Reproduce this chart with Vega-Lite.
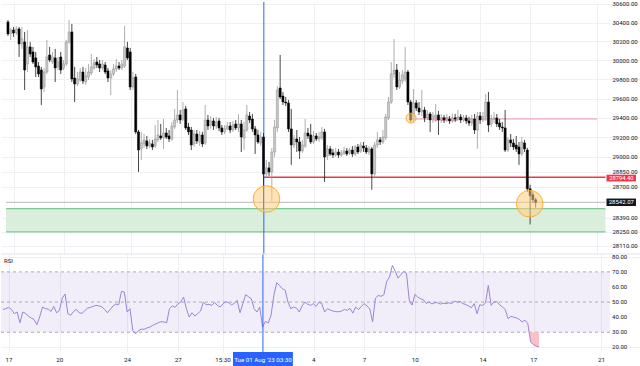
{
"$schema":"https://vega.github.io/schema/vega-lite/v6.json",
"padding":0,
"background":"#ffffff",
"spacing":0,
"bounds":"flush",
"config":{"view":{"stroke":null},"font":"Roboto","axis":{"labelOverlap":false}},
"resolve":{"scale":{"x":"independent","y":"independent"},"axis":{"x":"independent","y":"independent"}},
"datasets":{"candles":[
{"t":"2023-07-16T15:30Z","o":30407,"h":30428,"l":30259,"c":30280,"r":45.1},
{"t":"2023-07-16T19:30Z","o":30280,"h":30343,"l":30216,"c":30322,"r":45.6},
{"t":"2023-07-16T23:30Z","o":30322,"h":30354,"l":30248,"c":30290,"r":46.5},
{"t":"2023-07-17T03:30Z","o":30290,"h":30365,"l":30269,"c":30333,"r":45.1},
{"t":"2023-07-17T07:30Z","o":30333,"h":30354,"l":30036,"c":30174,"r":42.3},
{"t":"2023-07-17T11:30Z","o":30174,"h":30354,"l":30121,"c":30227,"r":43.4},
{"t":"2023-07-17T15:30Z","o":30195,"h":30301,"l":29690,"c":29899,"r":36.3},
{"t":"2023-07-17T19:30Z","o":29962,"h":30322,"l":29878,"c":30142,"r":43.4},
{"t":"2023-07-17T23:30Z","o":30142,"h":30195,"l":30036,"c":30068,"r":42.5},
{"t":"2023-07-18T03:30Z","o":30089,"h":30142,"l":29962,"c":29983,"r":40.7},
{"t":"2023-07-18T07:30Z","o":30026,"h":30089,"l":29826,"c":29931,"r":39.4},
{"t":"2023-07-18T11:30Z","o":29941,"h":29983,"l":29826,"c":29857,"r":38.5},
{"t":"2023-07-18T15:30Z","o":29899,"h":29931,"l":29534,"c":29700,"r":35.0},
{"t":"2023-07-18T19:30Z","o":29721,"h":29920,"l":29669,"c":29878,"r":40.1},
{"t":"2023-07-18T23:30Z","o":29878,"h":30216,"l":29857,"c":30036,"r":46.7},
{"t":"2023-07-19T03:30Z","o":30057,"h":30142,"l":29983,"c":30004,"r":45.6},
{"t":"2023-07-19T07:30Z","o":29983,"h":30089,"l":29962,"c":30036,"r":45.4},
{"t":"2023-07-19T11:30Z","o":30026,"h":30121,"l":29773,"c":29920,"r":43.8},
{"t":"2023-07-19T15:30Z","o":29931,"h":30036,"l":29899,"c":29983,"r":47.1},
{"t":"2023-07-19T19:30Z","o":30036,"h":30089,"l":29857,"c":29899,"r":42.9},
{"t":"2023-07-19T23:30Z","o":29920,"h":30004,"l":29899,"c":29962,"r":44.5},
{"t":"2023-07-20T03:30Z","o":29962,"h":30216,"l":29941,"c":30195,"r":52.6},
{"t":"2023-07-20T07:30Z","o":30195,"h":30428,"l":30174,"c":30301,"r":55.3},
{"t":"2023-07-20T11:30Z","o":30301,"h":30386,"l":29773,"c":29805,"r":42.3},
{"t":"2023-07-20T15:30Z","o":29815,"h":29931,"l":29565,"c":29752,"r":41.2},
{"t":"2023-07-20T19:30Z","o":29752,"h":29878,"l":29731,"c":29805,"r":43.8},
{"t":"2023-07-20T23:30Z","o":29794,"h":29920,"l":29773,"c":29878,"r":45.1},
{"t":"2023-07-21T03:30Z","o":29878,"h":29931,"l":29752,"c":29784,"r":42.9},
{"t":"2023-07-21T07:30Z","o":29773,"h":29920,"l":29742,"c":29836,"r":42.5},
{"t":"2023-07-21T11:30Z","o":29826,"h":29962,"l":29794,"c":29878,"r":44.3},
{"t":"2023-07-21T15:30Z","o":29868,"h":30068,"l":29847,"c":29931,"r":46.0},
{"t":"2023-07-21T19:30Z","o":29920,"h":30015,"l":29899,"c":29973,"r":46.5},
{"t":"2023-07-21T23:30Z","o":29983,"h":30036,"l":29920,"c":29952,"r":47.1},
{"t":"2023-07-22T03:30Z","o":29962,"h":30004,"l":29878,"c":29920,"r":47.8},
{"t":"2023-07-22T07:30Z","o":29920,"h":30004,"l":29899,"c":29962,"r":47.4},
{"t":"2023-07-22T11:30Z","o":29952,"h":29983,"l":29857,"c":29878,"r":46.9},
{"t":"2023-07-22T15:30Z","o":29889,"h":29920,"l":29773,"c":29815,"r":45.1},
{"t":"2023-07-22T19:30Z","o":29815,"h":29899,"l":29638,"c":29857,"r":42.9},
{"t":"2023-07-22T23:30Z","o":29857,"h":29962,"l":29836,"c":29910,"r":45.1},
{"t":"2023-07-23T03:30Z","o":29910,"h":30015,"l":29878,"c":29941,"r":47.4},
{"t":"2023-07-23T07:30Z","o":29941,"h":29983,"l":29899,"c":29920,"r":48.7},
{"t":"2023-07-23T11:30Z","o":29920,"h":30004,"l":29899,"c":29962,"r":48.2},
{"t":"2023-07-23T15:30Z","o":29941,"h":30365,"l":29920,"c":30142,"r":57.1},
{"t":"2023-07-23T19:30Z","o":30131,"h":30195,"l":30004,"c":30026,"r":56.6},
{"t":"2023-07-23T23:30Z","o":30089,"h":30131,"l":29690,"c":29721,"r":43.4},
{"t":"2023-07-24T03:30Z","o":29721,"h":29878,"l":29690,"c":29815,"r":45.6},
{"t":"2023-07-24T07:30Z","o":29826,"h":29857,"l":29235,"c":29256,"r":31.2},
{"t":"2023-07-24T11:30Z","o":29256,"h":29276,"l":28848,"c":29071,"r":29.0},
{"t":"2023-07-24T15:30Z","o":29082,"h":29256,"l":28969,"c":29143,"r":31.0},
{"t":"2023-07-24T19:30Z","o":29133,"h":29235,"l":29092,"c":29174,"r":32.1},
{"t":"2023-07-24T23:30Z","o":29164,"h":29215,"l":29082,"c":29112,"r":31.9},
{"t":"2023-07-25T03:30Z","o":29112,"h":29184,"l":29092,"c":29143,"r":32.8},
{"t":"2023-07-25T07:30Z","o":29133,"h":29174,"l":29071,"c":29102,"r":33.4},
{"t":"2023-07-25T11:30Z","o":29112,"h":29327,"l":29092,"c":29184,"r":34.5},
{"t":"2023-07-25T15:30Z","o":29174,"h":29379,"l":29153,"c":29225,"r":35.4},
{"t":"2023-07-25T19:30Z","o":29215,"h":29338,"l":29174,"c":29194,"r":36.3},
{"t":"2023-07-25T23:30Z","o":29194,"h":29389,"l":29082,"c":29245,"r":37.0},
{"t":"2023-07-26T03:30Z","o":29245,"h":29297,"l":29184,"c":29204,"r":36.8},
{"t":"2023-07-26T07:30Z","o":29215,"h":29276,"l":29153,"c":29184,"r":36.3},
{"t":"2023-07-26T11:30Z","o":29184,"h":29358,"l":29163,"c":29317,"r":45.6},
{"t":"2023-07-26T15:30Z","o":29307,"h":29493,"l":29287,"c":29379,"r":47.4},
{"t":"2023-07-26T19:30Z","o":29379,"h":29690,"l":29348,"c":29431,"r":46.5},
{"t":"2023-07-26T23:30Z","o":29431,"h":29482,"l":29338,"c":29379,"r":48.9},
{"t":"2023-07-27T03:30Z","o":29389,"h":29565,"l":29369,"c":29482,"r":50.0},
{"t":"2023-07-27T07:30Z","o":29493,"h":29524,"l":29276,"c":29297,"r":53.3},
{"t":"2023-07-27T11:30Z","o":29307,"h":29348,"l":29225,"c":29256,"r":45.6},
{"t":"2023-07-27T15:30Z","o":29276,"h":29307,"l":29071,"c":29122,"r":40.1},
{"t":"2023-07-27T19:30Z","o":29133,"h":29276,"l":29102,"c":29235,"r":42.9},
{"t":"2023-07-27T23:30Z","o":29235,"h":29276,"l":29133,"c":29163,"r":40.7},
{"t":"2023-07-28T03:30Z","o":29153,"h":29266,"l":29112,"c":29225,"r":42.3},
{"t":"2023-07-28T07:30Z","o":29225,"h":29256,"l":29102,"c":29133,"r":44.0},
{"t":"2023-07-28T11:30Z","o":29143,"h":29534,"l":29122,"c":29379,"r":50.0},
{"t":"2023-07-28T15:30Z","o":29379,"h":29431,"l":29276,"c":29317,"r":48.2},
{"t":"2023-07-28T19:30Z","o":29327,"h":29420,"l":29287,"c":29369,"r":48.5},
{"t":"2023-07-28T23:30Z","o":29369,"h":29400,"l":29276,"c":29317,"r":47.8},
{"t":"2023-07-29T03:30Z","o":29317,"h":29410,"l":29287,"c":29358,"r":49.8},
{"t":"2023-07-29T07:30Z","o":29369,"h":29400,"l":29266,"c":29297,"r":47.8},
{"t":"2023-07-29T11:30Z","o":29297,"h":29327,"l":29225,"c":29256,"r":46.7},
{"t":"2023-07-29T15:30Z","o":29256,"h":29327,"l":29235,"c":29287,"r":48.9},
{"t":"2023-07-29T19:30Z","o":29287,"h":29358,"l":29276,"c":29317,"r":50.2},
{"t":"2023-07-29T23:30Z","o":29317,"h":29358,"l":29245,"c":29276,"r":49.6},
{"t":"2023-07-30T03:30Z","o":29276,"h":29369,"l":29256,"c":29327,"r":48.2},
{"t":"2023-07-30T07:30Z","o":29338,"h":29379,"l":29276,"c":29297,"r":49.1},
{"t":"2023-07-30T11:30Z","o":29297,"h":29441,"l":29256,"c":29338,"r":51.1},
{"t":"2023-07-30T15:30Z","o":29338,"h":29379,"l":29051,"c":29204,"r":42.9},
{"t":"2023-07-30T19:30Z","o":29194,"h":29358,"l":29071,"c":29276,"r":48.9},
{"t":"2023-07-30T23:30Z","o":29276,"h":29534,"l":29256,"c":29431,"r":54.9},
{"t":"2023-07-31T03:30Z","o":29420,"h":29462,"l":29348,"c":29379,"r":53.5},
{"t":"2023-07-31T07:30Z","o":29389,"h":29441,"l":29256,"c":29287,"r":52.2},
{"t":"2023-07-31T11:30Z","o":29287,"h":29317,"l":29031,"c":29225,"r":45.6},
{"t":"2023-07-31T15:30Z","o":29225,"h":29276,"l":29133,"c":29153,"r":43.4},
{"t":"2023-07-31T19:30Z","o":29143,"h":29256,"l":29112,"c":29204,"r":46.7},
{"t":"2023-07-31T23:30Z","o":29204,"h":29245,"l":28469,"c":28828,"r":33.4},
{"t":"2023-08-01T03:30Z","o":28828,"h":28969,"l":28788,"c":28889,"r":37.2},
{"t":"2023-08-01T07:30Z","o":28889,"h":28949,"l":28808,"c":28848,"r":36.1},
{"t":"2023-08-01T11:30Z","o":28848,"h":29092,"l":28548,"c":29051,"r":41.2},
{"t":"2023-08-01T15:30Z","o":29051,"h":29379,"l":29000,"c":29307,"r":54.4},
{"t":"2023-08-01T19:30Z","o":29297,"h":29731,"l":29256,"c":29690,"r":62.8},
{"t":"2023-08-01T23:30Z","o":29711,"h":30057,"l":29596,"c":29617,"r":61.0},
{"t":"2023-08-02T03:30Z","o":29627,"h":29669,"l":29534,"c":29565,"r":58.8},
{"t":"2023-08-02T07:30Z","o":29565,"h":29617,"l":29524,"c":29555,"r":57.9},
{"t":"2023-08-02T11:30Z","o":29555,"h":29586,"l":29256,"c":29287,"r":50.0},
{"t":"2023-08-02T15:30Z","o":29287,"h":29493,"l":28919,"c":29122,"r":45.6},
{"t":"2023-08-02T19:30Z","o":29122,"h":29225,"l":29092,"c":29184,"r":46.7},
{"t":"2023-08-02T23:30Z","o":29184,"h":29276,"l":29051,"c":29153,"r":46.0},
{"t":"2023-08-03T03:30Z","o":29153,"h":29204,"l":28980,"c":29061,"r":43.4},
{"t":"2023-08-03T07:30Z","o":29061,"h":29174,"l":29041,"c":29122,"r":47.4},
{"t":"2023-08-03T11:30Z","o":29112,"h":29389,"l":29092,"c":29245,"r":50.0},
{"t":"2023-08-03T15:30Z","o":29245,"h":29297,"l":29184,"c":29215,"r":48.5},
{"t":"2023-08-03T19:30Z","o":29225,"h":29338,"l":29133,"c":29153,"r":47.8},
{"t":"2023-08-03T23:30Z","o":29153,"h":29266,"l":29133,"c":29215,"r":48.9},
{"t":"2023-08-04T03:30Z","o":29215,"h":29245,"l":29163,"c":29184,"r":47.1},
{"t":"2023-08-04T07:30Z","o":29184,"h":29256,"l":29153,"c":29204,"r":50.0},
{"t":"2023-08-04T11:30Z","o":29194,"h":29307,"l":29174,"c":29256,"r":48.9},
{"t":"2023-08-04T15:30Z","o":29256,"h":29287,"l":28748,"c":29000,"r":43.4},
{"t":"2023-08-04T19:30Z","o":29010,"h":29122,"l":28969,"c":29082,"r":45.6},
{"t":"2023-08-04T23:30Z","o":29082,"h":29112,"l":29010,"c":29031,"r":44.7},
{"t":"2023-08-05T03:30Z","o":29041,"h":29082,"l":28990,"c":29020,"r":44.0},
{"t":"2023-08-05T07:30Z","o":29020,"h":29092,"l":29000,"c":29051,"r":43.6},
{"t":"2023-08-05T11:30Z","o":29051,"h":29082,"l":28990,"c":29020,"r":43.6},
{"t":"2023-08-05T15:30Z","o":29020,"h":29071,"l":29000,"c":29041,"r":44.0},
{"t":"2023-08-05T19:30Z","o":29041,"h":29102,"l":29020,"c":29061,"r":45.1},
{"t":"2023-08-05T23:30Z","o":29061,"h":29092,"l":29010,"c":29031,"r":44.5},
{"t":"2023-08-06T03:30Z","o":29041,"h":29092,"l":29020,"c":29071,"r":45.8},
{"t":"2023-08-06T07:30Z","o":29071,"h":29112,"l":29000,"c":29031,"r":42.7},
{"t":"2023-08-06T11:30Z","o":29031,"h":29122,"l":29010,"c":29102,"r":46.7},
{"t":"2023-08-06T15:30Z","o":29102,"h":29133,"l":29031,"c":29051,"r":45.0},
{"t":"2023-08-06T19:30Z","o":29061,"h":29153,"l":29041,"c":29122,"r":47.1},
{"t":"2023-08-06T23:30Z","o":29112,"h":29153,"l":29051,"c":29092,"r":49.0},
{"t":"2023-08-07T03:30Z","o":29092,"h":29122,"l":29031,"c":29051,"r":47.4},
{"t":"2023-08-07T07:30Z","o":29051,"h":29112,"l":29020,"c":29082,"r":45.5},
{"t":"2023-08-07T11:30Z","o":29082,"h":29102,"l":28668,"c":28828,"r":36.8},
{"t":"2023-08-07T15:30Z","o":28828,"h":29153,"l":28798,"c":29122,"r":52.6},
{"t":"2023-08-07T19:30Z","o":29122,"h":29256,"l":29092,"c":29174,"r":54.4},
{"t":"2023-08-07T23:30Z","o":29174,"h":29204,"l":29122,"c":29153,"r":53.8},
{"t":"2023-08-08T03:30Z","o":29153,"h":29276,"l":29133,"c":29204,"r":54.9},
{"t":"2023-08-08T07:30Z","o":29194,"h":29441,"l":29174,"c":29410,"r":63.7},
{"t":"2023-08-08T11:30Z","o":29400,"h":29617,"l":29379,"c":29565,"r":66.6},
{"t":"2023-08-08T15:30Z","o":29565,"h":29983,"l":29545,"c":29857,"r":74.3},
{"t":"2023-08-08T19:30Z","o":29857,"h":30226,"l":29815,"c":29899,"r":70.5},
{"t":"2023-08-08T23:30Z","o":29899,"h":29962,"l":29690,"c":29721,"r":65.9},
{"t":"2023-08-09T03:30Z","o":29721,"h":29878,"l":29700,"c":29794,"r":68.1},
{"t":"2023-08-09T07:30Z","o":29784,"h":29899,"l":29752,"c":29847,"r":70.3},
{"t":"2023-08-09T11:30Z","o":29805,"h":30142,"l":29773,"c":29878,"r":69.0},
{"t":"2023-08-09T15:30Z","o":29878,"h":29899,"l":29534,"c":29565,"r":51.0},
{"t":"2023-08-09T19:30Z","o":29565,"h":29586,"l":29358,"c":29379,"r":48.0},
{"t":"2023-08-09T23:30Z","o":29389,"h":29700,"l":29358,"c":29555,"r":55.1},
{"t":"2023-08-10T03:30Z","o":29555,"h":29586,"l":29472,"c":29503,"r":53.3},
{"t":"2023-08-10T07:30Z","o":29503,"h":29565,"l":29431,"c":29462,"r":52.2},
{"t":"2023-08-10T11:30Z","o":29462,"h":29690,"l":29420,"c":29482,"r":51.5},
{"t":"2023-08-10T15:30Z","o":29482,"h":29514,"l":29358,"c":29400,"r":49.1},
{"t":"2023-08-10T19:30Z","o":29400,"h":29482,"l":29379,"c":29441,"r":50.0},
{"t":"2023-08-10T23:30Z","o":29441,"h":29462,"l":29256,"c":29379,"r":48.8},
{"t":"2023-08-11T03:30Z","o":29379,"h":29462,"l":29348,"c":29420,"r":49.5},
{"t":"2023-08-11T07:30Z","o":29410,"h":29545,"l":29358,"c":29431,"r":49.6},
{"t":"2023-08-11T11:30Z","o":29431,"h":29472,"l":29225,"c":29379,"r":48.6},
{"t":"2023-08-11T15:30Z","o":29379,"h":29441,"l":29348,"c":29400,"r":49.3},
{"t":"2023-08-11T19:30Z","o":29400,"h":29431,"l":29348,"c":29379,"r":48.9},
{"t":"2023-08-11T23:30Z","o":29379,"h":29441,"l":29358,"c":29389,"r":49.5},
{"t":"2023-08-12T03:30Z","o":29389,"h":29420,"l":29338,"c":29369,"r":49.0},
{"t":"2023-08-12T07:30Z","o":29369,"h":29441,"l":29348,"c":29400,"r":50.6},
{"t":"2023-08-12T11:30Z","o":29400,"h":29441,"l":29358,"c":29389,"r":50.0},
{"t":"2023-08-12T15:30Z","o":29389,"h":29482,"l":29369,"c":29410,"r":50.4},
{"t":"2023-08-12T19:30Z","o":29410,"h":29441,"l":29348,"c":29379,"r":48.9},
{"t":"2023-08-12T23:30Z","o":29379,"h":29431,"l":29358,"c":29400,"r":48.4},
{"t":"2023-08-13T03:30Z","o":29400,"h":29431,"l":29338,"c":29369,"r":47.4},
{"t":"2023-08-13T07:30Z","o":29369,"h":29410,"l":29317,"c":29348,"r":46.3},
{"t":"2023-08-13T11:30Z","o":29348,"h":29431,"l":29317,"c":29389,"r":49.0},
{"t":"2023-08-13T15:30Z","o":29389,"h":29441,"l":29235,"c":29276,"r":42.3},
{"t":"2023-08-13T19:30Z","o":29276,"h":29462,"l":29082,"c":29420,"r":48.2},
{"t":"2023-08-13T23:30Z","o":29420,"h":29462,"l":29338,"c":29379,"r":47.8},
{"t":"2023-08-14T03:30Z","o":29379,"h":29462,"l":29358,"c":29410,"r":49.3},
{"t":"2023-08-14T07:30Z","o":29410,"h":29648,"l":29369,"c":29565,"r":61.0},
{"t":"2023-08-14T11:30Z","o":29565,"h":29669,"l":29256,"c":29327,"r":47.8},
{"t":"2023-08-14T15:30Z","o":29338,"h":29431,"l":29307,"c":29389,"r":50.0},
{"t":"2023-08-14T19:30Z","o":29389,"h":29462,"l":29348,"c":29400,"r":50.4},
{"t":"2023-08-14T23:30Z","o":29400,"h":29441,"l":29307,"c":29338,"r":48.2},
{"t":"2023-08-15T03:30Z","o":29348,"h":29389,"l":29276,"c":29307,"r":46.7},
{"t":"2023-08-15T07:30Z","o":29307,"h":29358,"l":29256,"c":29297,"r":45.1},
{"t":"2023-08-15T11:30Z","o":29297,"h":29482,"l":29051,"c":29071,"r":39.0},
{"t":"2023-08-15T15:30Z","o":29071,"h":29204,"l":29051,"c":29174,"r":40.5},
{"t":"2023-08-15T19:30Z","o":29174,"h":29235,"l":29102,"c":29143,"r":40.0},
{"t":"2023-08-15T23:30Z","o":29143,"h":29184,"l":29071,"c":29102,"r":39.5},
{"t":"2023-08-16T03:30Z","o":29122,"h":29215,"l":29051,"c":29082,"r":38.5},
{"t":"2023-08-16T07:30Z","o":29102,"h":29153,"l":28919,"c":29031,"r":36.8},
{"t":"2023-08-16T11:30Z","o":29031,"h":29204,"l":29010,"c":29153,"r":38.0},
{"t":"2023-08-16T15:30Z","o":29143,"h":29174,"l":29051,"c":29082,"r":35.8},
{"t":"2023-08-16T19:30Z","o":29071,"h":29092,"l":28648,"c":28678,"r":23.5},
{"t":"2023-08-16T23:30Z","o":28678,"h":28718,"l":28321,"c":28608,"r":21.8},
{"t":"2023-08-17T03:30Z","o":28618,"h":28648,"l":28538,"c":28568,"r":20.8},
{"t":"2023-08-17T07:30Z","o":28568,"h":28588,"l":28489,"c":28542.07,"r":20.2}
]},
"vconcat":[
{
"width":640,"height":252,
"encoding":{"x":{"field":"t","type":"temporal","title":null,
  "scale":{"type":"utc","nice":false,"domain":[1689511170000,1692777600000]},
  "axis":{"labels":false,"ticks":false,"domain":false,"grid":true,"gridColor":"#eef0f4","gridWidth":1,
    "values":[1689552000000,1689811200000,1690156800000,1690416000000,1690644600000,1691107200000,1691366400000,1691625600000,1691971200000,1692230400000,1692576000000]}}},
"layer":[
 {"data":{"values":[{"a":"2023-07-16T12:39:30Z","b":"2023-08-21T12:00Z","lo":28247,"hi":28479}]},"mark":{"type":"rect","color":"#d9efdc"},
  "encoding":{"x":{"field":"a","type":"temporal","title":null},"x2":{"field":"b"},
   "y":{"field":"lo","type":"quantitative","title":null},"y2":{"field":"hi"}}},
 {"data":{"values":[{"a":"2023-07-16T12:39:30Z","b":"2023-08-21T12:00Z","v":28247},{"a":"2023-07-16T12:39:30Z","b":"2023-08-21T12:00Z","v":28479}]},"mark":{"type":"rule","color":"#7fc795","strokeWidth":1.2},
  "encoding":{"x":{"field":"a","type":"temporal","title":null},"x2":{"field":"b"},
   "y":{"field":"v","type":"quantitative","title":null}}},
 {"data":{"values":[{"a":"2023-07-16T12:39:30Z","b":"2023-08-21T12:00Z","v":28542.07}]},"mark":{"type":"rule","color":"#c4c6cc","strokeWidth":1.2},
  "encoding":{"x":{"field":"a","type":"temporal","title":null},"x2":{"field":"b"},
   "y":{"field":"v","type":"quantitative","title":null}}},
 {"data":{"values":[{"a":"2023-08-01T00:00Z","b":"2023-08-21T12:00Z","v":28794.4}]},"mark":{"type":"rule","color":"#f23645","strokeWidth":1.5},
  "encoding":{"x":{"field":"a","type":"temporal","title":null},"x2":{"field":"b"},
   "y":{"field":"v","type":"quantitative","title":null}}},
 {"data":{"values":[{"a":"2023-08-09T20:00Z","b":"2023-08-21T00:00Z","v":29389.5}]},"mark":{"type":"rule","color":"#f093ad","strokeWidth":1},
  "encoding":{"x":{"field":"a","type":"temporal","title":null},"x2":{"field":"b"},
   "y":{"field":"v","type":"quantitative","title":null}}},
 {"data":{"values":[{"a":"2023-08-11T22:00Z","v":29389.5}]},"mark":{"type":"text","text":"29389.60","color":"#e91e63","fontSize":5.5,"opacity":0.8},
  "encoding":{"x":{"field":"a","type":"temporal","title":null},"y":{"field":"v","type":"quantitative","title":null}}},
 {"data":{"values":[{"a":"2023-08-01T00:00Z"}]},"mark":{"type":"rule","color":"#2962ff","strokeWidth":1},
  "encoding":{"x":{"field":"a","type":"temporal","title":null}}},
 {"data":{"name":"candles"},"mark":{"type":"rule","strokeWidth":0.8},
  "encoding":{"y":{"field":"l","type":"quantitative","title":null,
     "scale":{"type":"log","domain":[28029,30621],"nice":false},
     "axis":{"orient":"right","offset":-31,"values":[30600,30400,30200,30000,29800,29600,29400,29200,29000,28850,28700,28390,28250,28110],"format":".2f","labelFontSize":6,"labelColor":"#131722","labelPadding":2,"labelAlign":"left","ticks":false,"domain":false,"grid":true,"gridColor":"#eef0f4","labelOverlap":false,"labelFlush":false}},
   "y2":{"field":"h"},
   "color":{"condition":{"test":"datum.c >= datum.o","value":"#9a9a9a"},"value":"#1a1a1a"}}},
 {"data":{"name":"candles"},"mark":{"type":"bar","size":2.1,"strokeWidth":0.5},
  "encoding":{"y":{"field":"o","type":"quantitative","title":null},"y2":{"field":"c"},
   "fill":{"condition":{"test":"datum.c >= datum.o","value":"#c9c9c9"},"value":"#000000"},
   "stroke":{"condition":{"test":"datum.c >= datum.o","value":"#8f8f8f"},"value":"#000000"}}},
 {"data":{"values":[{"t":"2023-08-01T03:50Z","p":28576},{"t":"2023-08-16T22:50Z","p":28528}]},
  "mark":{"type":"point","shape":"circle","size":707,"filled":true,"fill":"#ffcc80","fillOpacity":0.55,"stroke":"#ffa726","strokeWidth":1,"strokeOpacity":0.9},
  "encoding":{"y":{"field":"p","type":"quantitative","title":null}}},
 {"data":{"values":[{"t":"2023-08-09T20:00Z","p":29398}]},
  "mark":{"type":"point","shape":"circle","size":100,"filled":true,"fill":"#ffcc80","fillOpacity":0.55,"stroke":"#ffa726","strokeWidth":1,"strokeOpacity":0.9},
  "encoding":{"y":{"field":"p","type":"quantitative","title":null}}},
 {"data":{"values":[{"a":"2023-08-21T13:30Z","b":"2023-08-23T08:00Z","lo":28752,"hi":28820}]},"mark":{"type":"rect","color":"#f23645"},
  "encoding":{"x":{"field":"a","type":"temporal","title":null},"x2":{"field":"b"},
   "y":{"field":"lo","type":"quantitative","title":null},"y2":{"field":"hi"}}},
 {"data":{"values":[{"a":"2023-08-22T10:50Z","v":28786}]},"mark":{"type":"text","text":"28794.40","color":"#ffffff","fontSize":5.8,"align":"center","baseline":"middle"},
  "encoding":{"x":{"field":"a","type":"temporal","title":null},"y":{"field":"v","type":"quantitative","title":null}}},
 {"data":{"values":[{"a":"2023-08-21T13:30Z","b":"2023-08-23T08:00Z","lo":28505,"hi":28580}]},"mark":{"type":"rect","color":"#131722"},
  "encoding":{"x":{"field":"a","type":"temporal","title":null},"x2":{"field":"b"},
   "y":{"field":"lo","type":"quantitative","title":null},"y2":{"field":"hi"}}},
 {"data":{"values":[{"a":"2023-08-22T10:50Z","v":28542.07}]},"mark":{"type":"text","text":"28542.07","color":"#ffffff","fontSize":6,"align":"center","baseline":"middle"},
  "encoding":{"x":{"field":"a","type":"temporal","title":null},"y":{"field":"v","type":"quantitative","title":null}}}
]
},
{
"width":640,"height":98,
"encoding":{"x":{"field":"t","type":"temporal","title":null,
  "scale":{"type":"utc","nice":false,"domain":[1689511170000,1692777600000]},
  "axis":{"labels":false,"ticks":false,"domain":false,"grid":true,"gridColor":"#eef0f4","gridWidth":1,
    "values":[1689552000000,1689811200000,1690156800000,1690416000000,1690644600000,1691107200000,1691366400000,1691625600000,1691971200000,1692230400000,1692576000000]}}},
"layer":[
 {"data":{"values":[{"a":"2023-07-16T12:39:30Z","b":"2023-08-21T12:00Z","lo":30,"hi":70}]},"mark":{"type":"rect","color":"#7e57c2","opacity":0.1},
  "encoding":{"x":{"field":"a","type":"temporal","title":null},"x2":{"field":"b"},
   "y":{"field":"lo","type":"quantitative","title":null},"y2":{"field":"hi"}}},
 {"data":{"values":[{"a":"2023-07-16T12:39:30Z","b":"2023-08-21T12:00Z","v":70},{"a":"2023-07-16T12:39:30Z","b":"2023-08-21T12:00Z","v":50},{"a":"2023-07-16T12:39:30Z","b":"2023-08-21T12:00Z","v":30}]},"mark":{"type":"rule","color":"#9598a1","strokeWidth":0.8,"strokeDash":[3,3]},
  "encoding":{"x":{"field":"a","type":"temporal","title":null},"x2":{"field":"b"},
   "y":{"field":"v","type":"quantitative","title":null}}},
 {"data":{"values":[{"a":"2023-08-16T17:40Z","r":30,"lim":30},{"a":"2023-08-16T19:30Z","r":23.5,"lim":30},{"a":"2023-08-16T23:30Z","r":21.8,"lim":30},{"a":"2023-08-17T03:30Z","r":20.8,"lim":30},{"a":"2023-08-17T07:30Z","r":20.2,"lim":30}]},
  "mark":{"type":"area","color":"#f7b6c0","opacity":0.85},
  "encoding":{"x":{"field":"a","type":"temporal","title":null},"y":{"field":"r","type":"quantitative","title":null},"y2":{"field":"lim"}}},
 {"data":{"name":"candles"},"mark":{"type":"line","color":"#9c84d8","strokeWidth":1},
  "encoding":{"y":{"field":"r","type":"quantitative","title":null,
    "scale":{"domain":[16.9,81.85],"nice":false,"zero":false},
    "axis":{"orient":"right","values":[80,70,60,50,40,30,20],"labels":false,"ticks":false,"domain":false,"grid":true,"gridColor":"#eef0f4"}}}},
 {"data":{"values":[{"a":"2023-08-01T00:00Z"}]},"mark":{"type":"rule","color":"#2962ff","strokeWidth":1},
  "encoding":{"x":{"field":"a","type":"temporal","title":null}}},
 {"data":{"values":[{"a":"2023-07-16T12:39:30Z","b":"2023-08-23T08:00Z","v":81.85}]},"mark":{"type":"rule","color":"#e0e3eb","strokeWidth":1},
  "encoding":{"x":{"field":"a","type":"temporal","title":null},"x2":{"field":"b"},"y":{"field":"v","type":"quantitative","title":null}}},
 {"data":{"values":[{"a":"2023-08-21T15:00Z","v":80,"s":"80.00"},{"a":"2023-08-21T15:00Z","v":70,"s":"70.00"},{"a":"2023-08-21T15:00Z","v":60,"s":"60.00"},{"a":"2023-08-21T15:00Z","v":50,"s":"50.00"},{"a":"2023-08-21T15:00Z","v":40,"s":"40.00"},{"a":"2023-08-21T15:00Z","v":30,"s":"30.00"},{"a":"2023-08-21T15:00Z","v":20,"s":"20.00"}]},
  "mark":{"type":"text","color":"#131722","fontSize":6,"align":"left","baseline":"middle"},
  "encoding":{"x":{"field":"a","type":"temporal","title":null},"y":{"field":"v","type":"quantitative","title":null},"text":{"field":"s"}}},
 {"data":{"values":[{"a":"2023-07-16T17:00Z","v":77.5}]},"mark":{"type":"text","text":"RSI","color":"#131722","fontSize":6,"align":"left","baseline":"middle"},
  "encoding":{"x":{"field":"a","type":"temporal","title":null},"y":{"field":"v","type":"quantitative","title":null}}}
]
},
{
"width":640,"height":16,
"encoding":{"x":{"field":"t","type":"temporal","title":null,"axis":null,
  "scale":{"type":"utc","nice":false,"domain":[1689511170000,1692777600000]}}},
"layer":[
 {"data":{"values":[{"a":"2023-07-30T05:30Z","b":"2023-08-02T18:30Z"}]},"mark":{"type":"rect","color":"#2962ff"},
  "encoding":{"x":{"field":"a","type":"temporal","title":null,"axis":null},"x2":{"field":"b"}}},
 {"data":{"values":[{"t":"2023-07-17T00:00Z","s":"17"},{"t":"2023-07-20T00:00Z","s":"20"},{"t":"2023-07-24T00:00Z","s":"24"},{"t":"2023-07-27T00:00Z","s":"27"},{"t":"2023-07-29T15:30Z","s":"15:30"},{"t":"2023-08-04T00:00Z","s":"4"},{"t":"2023-08-07T00:00Z","s":"7"},{"t":"2023-08-10T00:00Z","s":"10"},{"t":"2023-08-14T00:00Z","s":"14"},{"t":"2023-08-17T00:00Z","s":"17"},{"t":"2023-08-21T00:00Z","s":"21"}]},
  "mark":{"type":"text","fontSize":6.2,"color":"#131722","baseline":"middle"},
  "encoding":{"text":{"field":"s"}}},
 {"data":{"values":[{"a":"2023-08-01T00:00Z"}]},"mark":{"type":"text","text":"Tue 01 Aug '23   03:30","fontSize":6.2,"color":"#ffffff","baseline":"middle"},
  "encoding":{"x":{"field":"a","type":"temporal","title":null,"axis":null}}}
]
}
]
}
